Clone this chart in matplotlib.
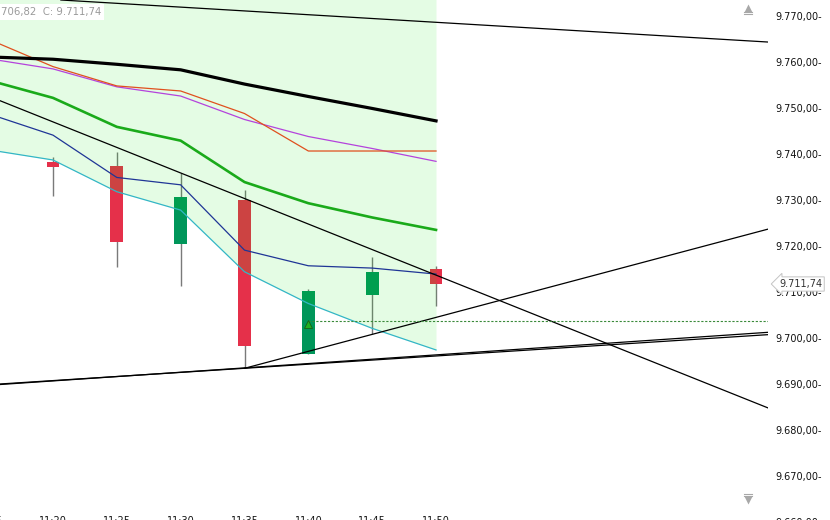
import numpy as np
import matplotlib
matplotlib.use("Agg")
import matplotlib.pyplot as plt
from matplotlib.lines import Line2D
from matplotlib.transforms import blended_transform_factory

plt.rcParams["font.family"] = ["DejaVu Sans"]

# ---- data ----
TIMES = ["11:15", "11:20", "11:25", "11:30", "11:35", "11:40", "11:45", "11:50"]
LINE_IDX = list(range(-1, 7))          # indicator points, 11:15..11:50
CANDLE_IDX = list(range(0, 7))         # candles, 11:20..11:50

OPEN = [9738.3, 9737.4, 9720.5, 9730.0, 9696.6, 9709.4, 9715.0]
HIGH = [9739.4, 9740.4, 9735.8, 9732.2, 9710.7, 9717.5, 9715.6]
LOW = [9730.9, 9715.4, 9711.4, 9693.4, 9696.5, 9700.8, 9707.0]
CLOSE = [9737.2, 9720.9, 9730.7, 9698.3, 9710.2, 9714.4, 9711.74]

SMA_SLOW = [9761.1, 9760.6, 9759.5, 9758.3, 9755.2, 9752.5, 9749.9, 9747.2]
STOP = [9764.9, 9759.0, 9754.8, 9753.7, 9748.8, 9740.65, 9740.65, 9740.65]
VIOLET = [9760.7, 9758.5, 9754.6, 9752.6, 9747.5, 9743.8, 9741.2, 9738.4]
SMA_MID = [9756.0, 9752.2, 9745.9, 9742.9, 9733.9, 9729.3, 9726.2, 9723.5]
BB_MID = [9748.7, 9744.1, 9734.9, 9733.3, 9719.1, 9715.7, 9715.2, 9713.9]
BB_LOW = [9740.9, 9738.7, 9731.8, 9727.8, 9714.4, 9707.5, 9702.1, 9697.4]
BB_UP = [9786.0, 9782.0, 9779.0, 9779.0, 9781.0, 9780.0, 9779.0, 9778.0]  # above view

# trend lines: (idx0, price0, idx1, price1, ray) - ray starts at first anchor
TRENDS = [
    (0, 9773.58, 6, 9768.63, False),
    (0, 9746.98, 6, 9713.67, False),
    (3, 9693.41, 6, 9704.48, True),
    (0, 9690.67, 6, 9696.33, False),
    (0, 9690.74, 6, 9696.09, False),
]
ENTRY_IDX, ENTRY = 4, 9703.6
YTICKS = [9660, 9670, 9680, 9690, 9700, 9710, 9720, 9730, 9740, 9750, 9760, 9770]
HEADER = "706,82  C: 9.711,74"
XLIM = (-0.83, 11.2)
YLIM = (9659.565, 9773.478)

# ---- colours ----
RED = "#e5304a"
GREEN = "#00965a"
WICK = "#7a7a7a"


def de_fmt(v):
    return f"{v:,.2f}".replace(",", " ").replace(".", ",").replace(" ", ".")


W, H = 830, 520
fig = plt.figure(figsize=(W / 100, H / 100), dpi=100)
fig.patch.set_facecolor("white")
ax = fig.add_axes([0, -4 / H, 768 / W, 524 / H])
ax.set_facecolor("white")
for s in ax.spines.values():
    s.set_visible(False)

# candles
for i, o, h, l, c in zip(CANDLE_IDX, OPEN, HIGH, LOW, CLOSE):
    col = GREEN if c >= o else RED
    ax.vlines(i, l, h, color=WICK, lw=1.0, zorder=2)
    ax.bar(i, abs(c - o), bottom=min(o, c), width=0.2, color=col,
           lw=0, zorder=2.5)

# band fill (drawn over the candles, as in the original)
ax.fill_between(LINE_IDX, BB_LOW, BB_UP, color=(0.0, 0.9, 0.0), alpha=0.107,
                lw=0, zorder=3)

ax.plot(LINE_IDX, BB_LOW, color="#33b6c6", lw=0.9, zorder=4)
ax.plot(LINE_IDX, BB_MID, color="#1f3596", lw=0.9, zorder=4)
ax.plot(LINE_IDX, VIOLET, color="#b443dc", lw=0.9, zorder=4)
ax.plot(LINE_IDX, STOP, color="#e0501e", lw=0.9, zorder=4)
ax.plot(LINE_IDX, SMA_MID, color="#1aaa1a", lw=1.9, zorder=4)
ax.plot(LINE_IDX, SMA_SLOW, color="black", lw=2.3, zorder=4)

for i0, p0, i1, p1, ray in TRENDS:
    if ray:
        slope = (p1 - p0) / (i1 - i0)
        ax.plot([i0, XLIM[1]], [p0, p0 + slope * (XLIM[1] - i0)],
                color="black", lw=0.9, zorder=5)
    else:
        ax.axline((i0, p0), (i1, p1), color="black", lw=0.9, zorder=5)

# entry marker + dotted level
ax.plot([ENTRY_IDX, XLIM[1]], [ENTRY, ENTRY], color="#3a8a3a", lw=0.8,
        ls=(0, (2, 1.5)), zorder=5)
ax.plot(ENTRY_IDX, ENTRY - 0.55, marker="^", ms=6, mfc="#22b022",
        mec="#176017", mew=0.6, zorder=6)

# axes ticks
ax.yaxis.tick_right()
ax.set_yticks(YTICKS)
ax.set_yticklabels([de_fmt(v) + "-" for v in YTICKS])
ax.tick_params(axis="y", length=0, pad=5, labelsize=7, labelcolor="#111111")
ax.set_xticks(CANDLE_IDX)
ax.set_xticklabels(TIMES[1:])
ax.tick_params(axis="x", length=0, pad=-5.5, labelsize=7, labelcolor="#111111")
ax.grid(False)
ax.set_xlim(*XLIM)
ax.set_ylim(*YLIM)

# first time label sits mostly left of the view
trans = blended_transform_factory(ax.transData, fig.transFigure)
ax.text(LINE_IDX[0], 1 - 516 / H, TIMES[0], transform=trans, fontsize=7,
        color="#111111", ha="center", va="top", clip_on=False)

# last price tag
last = CLOSE[-1]
ax.annotate(de_fmt(last), xy=(1.0, last), xycoords=("axes fraction", "data"),
            xytext=(11, 0), textcoords="offset pixels", va="center",
            ha="left", fontsize=7, color="#333333",
            bbox=dict(boxstyle="larrow,pad=0.22", fc="white",
                      ec="#c4c4c4", lw=0.7),
            annotation_clip=False, zorder=20)

# header text
fig.text(1 / W, 1 - 12 / H, HEADER, fontsize=7.3, color="#9a9a9a",
         va="center", ha="left",
         bbox=dict(boxstyle="square,pad=0.25", fc="white", ec="none"))

# scroll arrows
gx = 748 / W
for y_tri, marker, bars in ((8, "^", (12, 14)), (500, "v", (494, 496))):
    fig.add_artist(Line2D([gx], [1 - y_tri / H], marker=marker, ms=6,
                          color="#a8a8a8", mec="none",
                          transform=fig.transFigure))
    for yb in bars:
        fig.add_artist(Line2D([gx - 4 / W, gx + 4 / W], [1 - yb / H] * 2,
                              color="#a8a8a8", lw=0.8,
                              transform=fig.transFigure))

fig.savefig("out.png", dpi=100)
